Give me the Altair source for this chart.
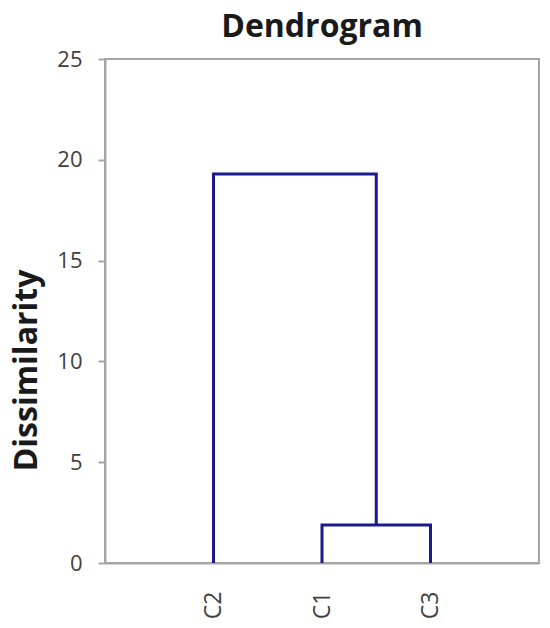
import altair as alt
import pandas as pd

# Data
leaf_labels = ["C2", "C1", "C3"]
leaf_positions = [1, 2, 3]
merge_names = ["M1", "M2"]
merge_left = ["C1", "C2"]
merge_right = ["C3", "M1"]
merge_heights = [1.88, 19.3]
y_ticks = [0, 5, 10, 15, 20, 25]

pos = {l: (x, 0.0) for l, x in zip(leaf_labels, leaf_positions)}
rows = []
for name, a, b, h in zip(merge_names, merge_left, merge_right, merge_heights):
    xa, ya = pos[a]
    xb, yb = pos[b]
    pts = [(xa, ya), (xa, h), (xb, h), (xb, yb)]
    for k, (x, y) in enumerate(pts):
        rows.append({"link": name, "step": k, "x": x, "y": y})
    pos[name] = ((xa + xb) / 2, h)
df = pd.DataFrame(rows)

label_expr = " : ".join(
    f"datum.value == {p} ? '{l}'" for p, l in zip(leaf_positions, leaf_labels)
) + " : ''"

FONT = "Open Sans"
AXIS_GRAY = "#a6a6a6"
LABEL = "#404040"

chart = alt.Chart(df).mark_line(
    color="#1a1a8e", strokeWidth=3, strokeJoin="miter"
).encode(
    x=alt.X(
        "x:Q",
        scale=alt.Scale(domain=[0, 4], nice=False, zero=False),
        axis=alt.Axis(
            values=leaf_positions, labelExpr=label_expr, labelAngle=-90,
            ticks=False, grid=False, title=None, labelPadding=28,
            labelFontSize=23, labelColor=LABEL, labelFont=FONT,
            domainColor=AXIS_GRAY, domainWidth=2,
        ),
    ),
    y=alt.Y(
        "y:Q",
        scale=alt.Scale(domain=[0, 25], nice=False),
        axis=alt.Axis(
            values=y_ticks, grid=False, title="Dissimilarity",
            titleFont=FONT, titleFontSize=32, titleFontWeight="bold",
            titleColor="#1a1a1a", titleX=-62, titleY=311,
            labelFontSize=22, labelColor=LABEL, labelFont=FONT,
            labelPadding=16, tickSize=7, tickColor=AXIS_GRAY, tickWidth=2,
            domainColor=AXIS_GRAY, domainWidth=2,
        ),
    ),
    detail="link:N",
    order="step:O",
).properties(
    width=434,
    height=504,
    autosize=alt.AutoSizeParams(type="none"),
    padding={"left": 97, "top": 51, "right": 3, "bottom": 57},
    title=alt.TitleParams(
        "Dendrogram", font=FONT, fontSize=32, fontWeight="bold",
        color="#1a1a1a", offset=4,
    ),
).configure_view(
    stroke=AXIS_GRAY, strokeWidth=2
)

chart.save("out.html", embed_options={"renderer": "svg", "actions": False})
